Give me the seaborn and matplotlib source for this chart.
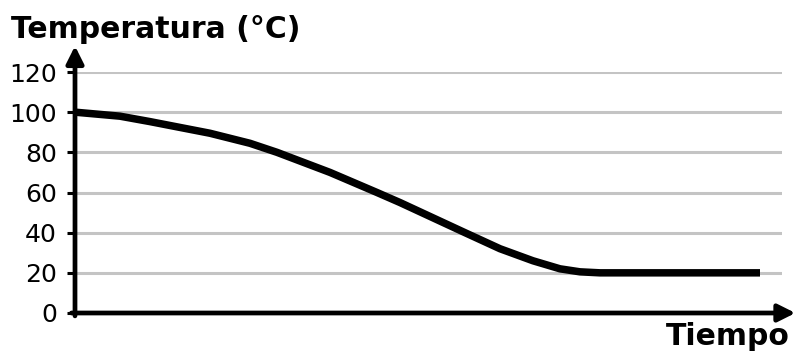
import matplotlib
matplotlib.use("Agg")
import matplotlib.pyplot as plt
import seaborn as sns
import pandas as pd

# Data (time in arbitrary units, temperature in °C)
tiempo = [0, 4.5, 7.5, 13.5, 17.5, 20.2, 25.5, 30.2, 32.5, 39.0, 42.5, 45.8, 48.5, 50.5, 52.5, 68.5]
temperatura = [100, 98, 95.3, 89.5, 84.5, 80, 70, 60, 55, 40, 32, 26, 22, 20.5, 20, 20]
y_ticks = [0, 20, 40, 60, 80, 100, 120]
y_label = "Temperatura (°C)"
x_label = "Tiempo"

df = pd.DataFrame({"Tiempo": tiempo, "Temperatura": temperatura})

sns.set_theme(style="white")
plt.rcParams["font.family"] = ["DejaVu Sans"]

fig = plt.figure(figsize=(8.0, 3.61), dpi=100)
W, H = 800, 361
left, right, top, bottom = 75, 782, 72, 313
ax = fig.add_axes([left / W, 1 - bottom / H, (right - left) / W, (bottom - top) / H])

sns.lineplot(data=df, x="Tiempo", y="Temperatura", ax=ax, color="black",
             linewidth=5.4, solid_joinstyle="round", solid_capstyle="butt", zorder=3)

ax.set_xlim(0, 70.7)
ax.set_ylim(0, 120)
ax.set_yticks(y_ticks)
ax.set_yticklabels([str(v) for v in y_ticks], fontsize=18, color="black")
ax.set_xticks([])
ax.set_xlabel("")
ax.set_ylabel("")
ax.grid(axis="y", color="#c4c4c4", linewidth=2.2)
ax.set_axisbelow(True)
ax.tick_params(axis="y", which="major", left=True, length=6, width=2.2,
               color="black", pad=7, direction="out")

for s in ["top", "right", "left", "bottom"]:
    ax.spines[s].set_visible(False)

# axis arrows
ax.annotate("", xy=(0, 1.108), xycoords="axes fraction", xytext=(0, -0.012),
            textcoords="axes fraction",
            arrowprops=dict(arrowstyle="-|>", lw=3.4, color="black", mutation_scale=26,
                            shrinkA=0, shrinkB=0), annotation_clip=False, zorder=5)
ax.annotate("", xy=(1.019, 0), xycoords="axes fraction", xytext=(-0.005, 0),
            textcoords="axes fraction",
            arrowprops=dict(arrowstyle="-|>", lw=3.4, color="black", mutation_scale=26,
                            shrinkA=0, shrinkB=0), annotation_clip=False, zorder=5)

fig.text(11 / W, 1 - 38 / H, y_label, fontsize=21.5, fontweight="bold",
         ha="left", va="baseline", color="black")
fig.text(790 / W, 1 - 345 / H, x_label, fontsize=21.5, fontweight="bold",
         ha="right", va="baseline", color="black")

fig.savefig("out.png", dpi=100)
